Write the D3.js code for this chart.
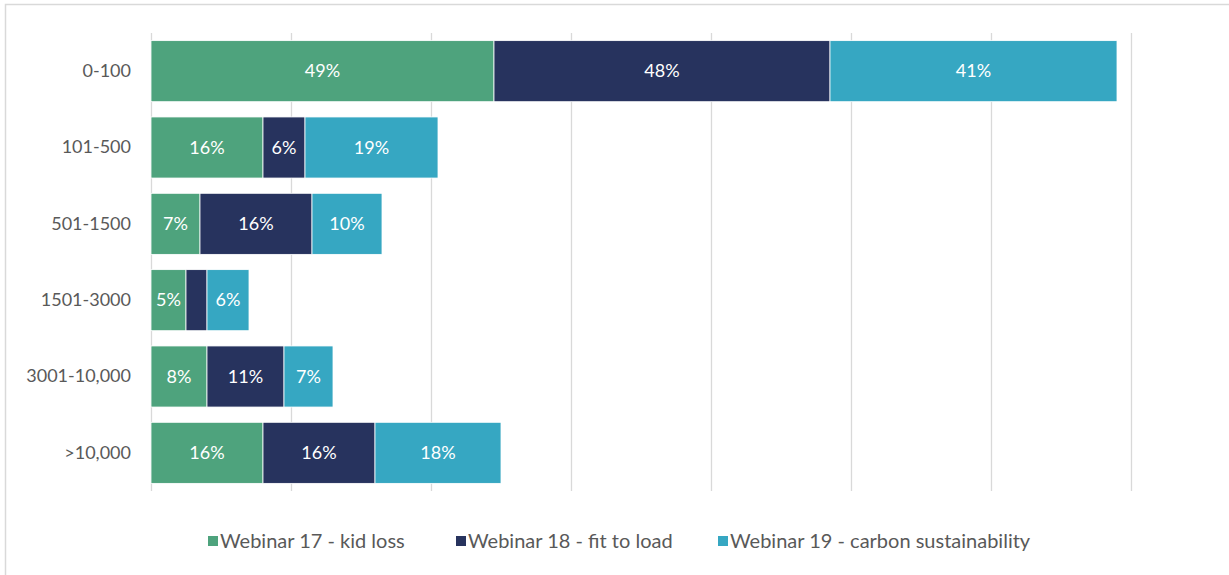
<!DOCTYPE html>
<html>
<head>
<meta charset="utf-8">
<script src="https://cdn.jsdelivr.net/npm/d3@7"></script>
<style>
  html, body { margin: 0; padding: 0; background: #fff; }
  svg { display: block; }
  text { font-family: Lato, "Open Sans", sans-serif; }
</style>
</head>
<body>
<svg id="chart" width="1229" height="575"></svg>
<script>
// Company size bands (rows, top to bottom)
const categories = ["0-100", "101-500", "501-1500", "1501-3000", "3001-10,000", ">10,000"];

// Series names
const seriesNames = [
  "Webinar 17 - kid loss",
  "Webinar 18 - fit to load",
  "Webinar 19 - carbon sustainability"
];

// Share of attendees per band (%)
const webinar17 = [49, 16, 7, 5, 8, 16];
const webinar18 = [48, 6, 16, 3, 11, 16];
const webinar19 = [41, 19, 10, 6, 7, 18];

// Which segments carry a value label (the narrow 1501-3000 / webinar 18 segment has none)
const showLabel18 = [true, true, true, false, true, true];

// Axis ticks (gridlines only, no tick text)
const xTicks = [0, 20, 40, 60, 80, 100, 120, 140];

const colors = ["#4EA37D", "#27335E", "#36A7C2"];

const svg = d3.select("#chart");

// Outer chart frame
svg.append("rect")
  .attr("x", 5.5).attr("y", 4.5)
  .attr("width", 1240).attr("height", 600)
  .attr("fill", "none").attr("stroke", "#d9d9d9").attr("stroke-width", 1.5);

const plot = { left: 151, right: 1131, top: 33, bottom: 491 };

const x = d3.scaleLinear().domain([0, 140]).range([plot.left, plot.right]);
const y = d3.scaleBand().domain(categories).range([plot.top, plot.bottom]).paddingInner(0.2).paddingOuter(0.1);

// Gridlines
svg.append("g")
  .selectAll("line")
  .data(xTicks)
  .join("line")
  .attr("x1", d => x(d) + 0.5).attr("x2", d => x(d) + 0.5)
  .attr("y1", plot.top).attr("y2", plot.bottom)
  .attr("stroke", "#d9d9d9").attr("stroke-width", 1.3);

// Stack the three series
const rows = categories.map((c, i) => ({
  cat: c,
  s0: webinar17[i], s1: webinar18[i], s2: webinar19[i],
  lab: [true, showLabel18[i], true]
}));
const stack = d3.stack().keys(["s0", "s1", "s2"]);
const stacked = stack(rows);

const groups = svg.append("g")
  .selectAll("g")
  .data(stacked)
  .join("g")
  .attr("fill", (d, i) => colors[i]);

groups.selectAll("rect")
  .data(d => d)
  .join("rect")
  .attr("x", d => x(d[0]))
  .attr("y", d => y(d.data.cat))
  .attr("width", d => x(d[1]) - x(d[0]))
  .attr("height", y.bandwidth())
  .attr("stroke", "#ffffff").attr("stroke-width", 0.8);

// Value labels
stacked.forEach((layer, si) => {
  svg.append("g")
    .selectAll("text")
    .data(layer.filter(d => d.data.lab[si]))
    .join("text")
    .attr("x", d => (x(d[0]) + x(d[1])) / 2)
    .attr("y", d => y(d.data.cat) + y.bandwidth() / 2)
    .attr("dy", "0.35em")
    .attr("text-anchor", "middle")
    .attr("fill", "#ffffff")
    .attr("font-size", 18)
    .text(d => (d[1] - d[0]) + "%");
});

// Category axis (left)
const yAxis = d3.axisLeft(y).tickSize(0).tickPadding(20);
const yg = svg.append("g").attr("transform", `translate(${plot.left},0)`).call(yAxis);
yg.select(".domain").remove();
yg.selectAll("text").attr("font-size", 18).attr("fill", "#595959")
  .style("font-family", "Lato, 'Open Sans', sans-serif");

// Legend
const legendItems = [
  { name: seriesNames[0], color: colors[0], x: 208 },
  { name: seriesNames[1], color: colors[1], x: 456 },
  { name: seriesNames[2], color: colors[2], x: 718 }
];
const lg = svg.append("g").selectAll("g").data(legendItems).join("g")
  .attr("transform", d => `translate(${d.x},541)`);
lg.append("rect").attr("x", 0).attr("y", -5).attr("width", 10).attr("height", 10)
  .attr("fill", d => d.color);
lg.append("text").attr("x", 12).attr("y", 0).attr("dy", "0.35em")
  .attr("font-size", 20).attr("fill", "#595959")
  .text(d => d.name);
</script>
</body>
</html>
